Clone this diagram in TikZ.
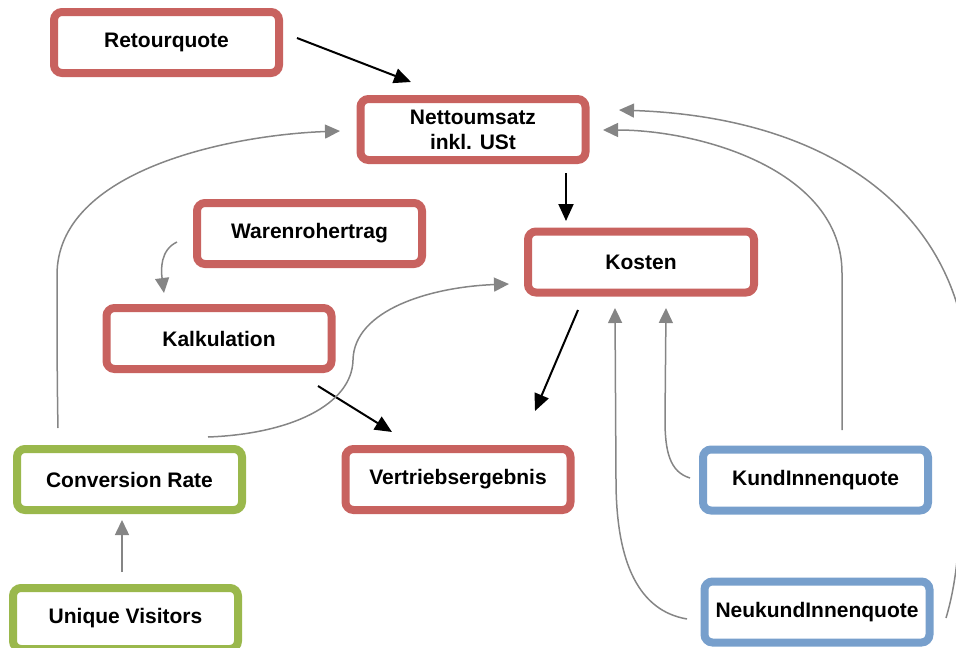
\documentclass[tikz,border=0pt]{standalone}
\usepackage{fontspec}
\setmainfont{Liberation Sans}
\usetikzlibrary{arrows.meta}
\definecolor{boxred}{HTML}{C8625F}
\definecolor{boxgreen}{HTML}{9AB84C}
\definecolor{boxblue}{HTML}{779FCC}
\definecolor{linkgray}{HTML}{858585}
\tikzset{
  kpi/.style={draw, line width=8pt, rounded corners=8pt, fill=white,
    minimum width=225pt, minimum height=61pt, inner sep=0pt, align=center,
    font=\fontsize{21}{25}\selectfont\bfseries},
  redbox/.style={kpi, draw=boxred},
  greenbox/.style={kpi, draw=boxgreen},
  bluebox/.style={kpi, draw=boxblue},
  blackarrow/.style={line width=2pt, black, -{Triangle[length=17pt,width=15pt]}},
  grayarrow/.style={line width=1.5pt, linkgray, -{Triangle[length=15pt,width=14pt]}}
}
\begin{document}
\begin{tikzpicture}[x=1pt,y=-1pt]
\useasboundingbox (0,0) rectangle (956,648);
\clip (0,0) rectangle (956,648);

% nodes
\node[redbox] (retour) at (166.5,42.5) {Retourquote};
\node[redbox] (netto) at (473,129.5) {Nettoumsatz\\inkl. USt};
\node[redbox] (waren) at (309.5,233.5) {Warenrohertrag};
\node[redbox, minimum width=226pt] (kosten) at (641,262) {Kosten};
\node[redbox] (kalk) at (219,338.5) {Kalkulation};
\node[greenbox] (conv) at (129.5,479.5) {Conversion Rate};
\node[redbox] (vertrieb) at (458,479.5) {Vertriebsergebnis};
\node[greenbox] (unique) at (125.5,618.5) {Unique Visitors};
\node[bluebox] (kund) at (815.5,480) {KundInnenquote};
\node[bluebox] (neu) at (817,612) {NeukundInnenquote};

% connector end points
\coordinate (retourS) at (297,38);
\coordinate (nettoT1) at (411,82);
\coordinate (nettoS) at (566,173);
\coordinate (kostenT) at (566,221);
\coordinate (kostenS) at (578,310);
\coordinate (vertriebT1) at (535,411);
\coordinate (kalkS) at (318,386);
\coordinate (vertriebT2) at (392,432);
\coordinate (warenS) at (177,242);
\coordinate (kalkT) at (164,293);
\coordinate (convS1) at (58,428);
\coordinate (nettoT2) at (340,131);
\coordinate (convS2) at (208,437);
\coordinate (kostenT2) at (509,284);
\coordinate (uniqueS) at (122,572);
\coordinate (convT) at (122,520);
\coordinate (kundS1) at (690,478);
\coordinate (kostenT3) at (666,308);
\coordinate (neuS1) at (687,619);
\coordinate (kostenT4) at (615,308);
\coordinate (kundS2) at (842,430);
\coordinate (nettoT3) at (603,130);
\coordinate (neuS2) at (946,618);
\coordinate (nettoT4) at (619,110);

% black connectors
\draw[blackarrow] (retourS) -- (nettoT1);
\draw[blackarrow] (nettoS) -- (kostenT);
\draw[blackarrow] (kostenS) -- (vertriebT1);
\draw[blackarrow] (kalkS) -- (vertriebT2);

% gray connectors
\draw[grayarrow] (warenS) .. controls (160,250) and (161,270) .. (kalkT);
\draw[grayarrow] (convS1) .. controls (57,380) and (57,320) .. (57,275)
  .. controls (57,170) and (230,135) .. (nettoT2);
\draw[grayarrow] (convS2) .. controls (290,434) and (352,405) .. (353,360)
  .. controls (354,310) and (430,287) .. (kostenT2);
\draw[grayarrow] (uniqueS) -- (convT);
\draw[grayarrow] (kundS1) .. controls (670,472) and (665,452) .. (665,420) -- (kostenT3);
\draw[grayarrow] (neuS1) .. controls (640,611) and (616,565) .. (616,480) -- (kostenT4);
\draw[grayarrow] (kundS2) -- (842,273) .. controls (842,170) and (700,130) .. (nettoT3);
\draw[grayarrow] (neuS2) .. controls (952,598) and (956,575) .. (958,550)
  .. controls (960,525) and (968,440) .. (968,380)
  .. controls (968,230) and (850,118) .. (nettoT4);
\end{tikzpicture}
\end{document}
